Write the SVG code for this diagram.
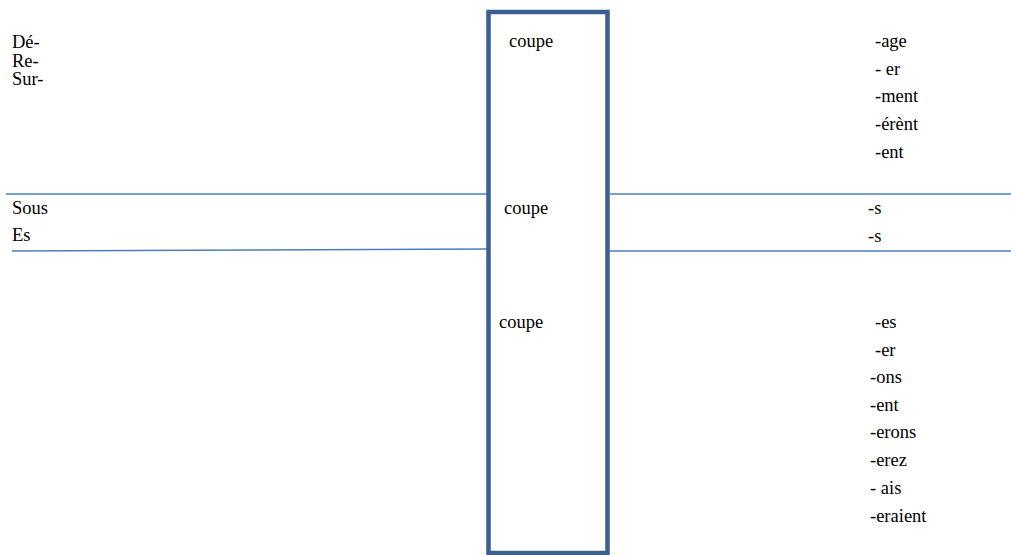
<svg xmlns="http://www.w3.org/2000/svg" width="1011" height="555" viewBox="0 0 1011 555" font-family="'Liberation Serif', 'Times New Roman', serif">
<style>
text{font-family:'Liberation Serif','Times New Roman',serif;font-size:18.5px;fill:#000}
.ln{stroke:#4A7EBB;stroke-width:1.6;fill:none}
.box{stroke:#3B5F8E;stroke-width:4.5;fill:#fff}
</style>
<g id="connectors">
<line class="ln" x1="6" y1="194" x2="487" y2="194"/>
<line class="ln" x1="12" y1="251" x2="487" y2="249"/>
<line class="ln" x1="610" y1="194" x2="1011" y2="194"/>
<line class="ln" x1="610" y1="251" x2="1011" y2="251"/>
</g>
<g id="box">
<rect class="box" x="488.5" y="12" width="119" height="541"/>
<text x="509" y="47">coupe</text>
<text x="504" y="214">coupe</text>
<text x="499" y="328">coupe</text>
</g>
<g id="prefixes">
<text x="12" y="48">Dé-</text>
<text x="12" y="66.5">Re-</text>
<text x="12" y="85">Sur-</text>
</g>
<g id="sous">
<text x="12" y="214">Sous</text>
<text x="12" y="241">Es</text>
</g>
<g id="suffixes1">
<text x="875" y="47">-age</text>
<text x="875" y="75">- er</text>
<text x="875" y="102">-ment</text>
<text x="875" y="130">-érènt</text>
<text x="875" y="158">-ent</text>
</g>
<g id="suffixes2">
<text x="868" y="214">-s</text>
<text x="868" y="242">-s</text>
</g>
<g id="suffixes3">
<text x="875" y="328">-es</text>
<text x="875" y="356">-er</text>
<text x="870" y="383">-ons</text>
<text x="870" y="411">-ent</text>
<text x="870" y="438">-erons</text>
<text x="870" y="466">-erez</text>
<text x="870" y="494">- ais</text>
<text x="870" y="522">-eraient</text>
</g>
</svg>
